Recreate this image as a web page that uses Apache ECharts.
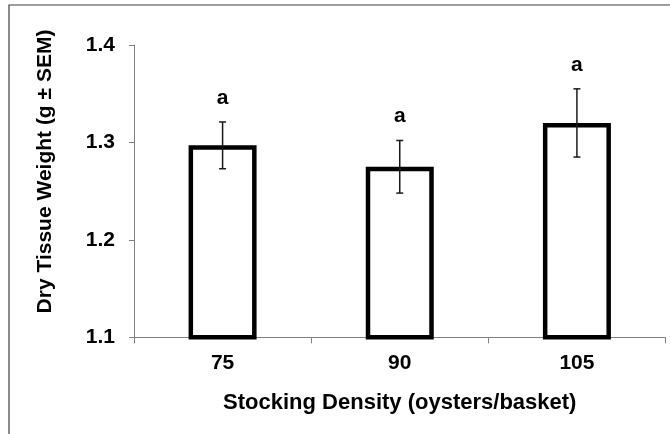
<!DOCTYPE html>
<html>
<head>
<meta charset="utf-8">
<script src="https://cdn.jsdelivr.net/npm/echarts@6/dist/echarts.min.js"></script>
<style>
  html, body { margin: 0; padding: 0; background: #fff; }
  #chart { width: 670px; height: 434px; }
</style>
</head>
<body>
<div id="chart"></div>
<script>
// Stocking density groups and mean dry tissue weight with SEM
const categories = ['75', '90', '105'];
const meanWeight = [1.297, 1.275, 1.320];
const semWeight = [0.024, 0.027, 0.035];
const groupLetters = ['a', 'a', 'a'];
const yTicks = { min: 1.1, max: 1.4, interval: 0.1 };

const FONT = 'Arial, "Liberation Sans", sans-serif';
const chart = echarts.init(document.getElementById('chart'), null, { renderer: 'canvas' });

const errData = categories.map((c, i) => [i, meanWeight[i], semWeight[i], groupLetters[i]]);

chart.setOption({
  animation: false,
  backgroundColor: '#ffffff',
  grid: { left: 134, right: 4.5, top: 45, bottom: 96.7, containLabel: false },
  xAxis: {
    type: 'category',
    data: categories,
    axisLine: { lineStyle: { color: '#808080', width: 1 } },
    axisTick: { show: true, length: 6, lineStyle: { color: '#808080' } },
    axisLabel: { color: '#000', fontFamily: FONT, fontWeight: 'bold', fontSize: 21, margin: 15 },
    name: 'Stocking Density (oysters/basket)',
    nameLocation: 'middle',
    nameGap: 55,
    nameTextStyle: { color: '#000', fontFamily: FONT, fontWeight: 'bold', fontSize: 22 }
  },
  yAxis: {
    type: 'value',
    min: yTicks.min,
    max: yTicks.max,
    interval: yTicks.interval,
    axisLine: { show: true, lineStyle: { color: '#808080', width: 1 } },
    axisTick: { show: true, length: 5, lineStyle: { color: '#808080' } },
    splitLine: { show: false },
    axisLabel: {
      color: '#000', fontFamily: FONT, fontWeight: 'bold', fontSize: 21, margin: 19,
      formatter: v => v.toFixed(1)
    }
  },
  graphic: [
    {
      type: 'rect',
      shape: { x: 9, y: 5, width: 800, height: 600 },
      style: { fill: 'none', stroke: '#404040', lineWidth: 1.2 },
      silent: true
    },
    {
      type: 'text',
      x: 45, y: 171.5,
      rotation: Math.PI / 2,
      style: {
        text: 'Dry Tissue Weight (g \u00b1 SEM)',
        fill: '#000', font: 'bold 21px ' + FONT,
        textAlign: 'center', textVerticalAlign: 'middle'
      }
    }
  ],
  series: [
    {
      type: 'bar',
      data: meanWeight,
      barWidth: 68,
      itemStyle: { color: '#ffffff', borderColor: '#000000', borderWidth: 4.5 },
      z: 2
    },
    {
      type: 'custom',
      data: errData,
      z: 5,
      renderItem: function (params, api) {
        const x = api.value(0);
        const m = api.value(1);
        const e = api.value(2);
        const top = api.coord([x, m + e]);
        const bot = api.coord([x, m - e]);
        const cap = 3.5;
        const ls = { stroke: '#1a1a1a', lineWidth: 1.5 };
        return {
          type: 'group',
          children: [
            { type: 'line', shape: { x1: top[0], y1: top[1], x2: bot[0], y2: bot[1] }, style: ls },
            { type: 'line', shape: { x1: top[0] - cap, y1: top[1], x2: top[0] + cap, y2: top[1] }, style: ls },
            { type: 'line', shape: { x1: bot[0] - cap, y1: bot[1], x2: bot[0] + cap, y2: bot[1] }, style: ls },
            {
              type: 'text',
              style: {
                text: api.value(3),
                x: top[0], y: top[1] - 24,
                fill: '#000', font: 'bold 21px ' + FONT,
                textAlign: 'center', textVerticalAlign: 'middle'
              }
            }
          ]
        };
      }
    }
  ]
});
</script>
</body>
</html>
